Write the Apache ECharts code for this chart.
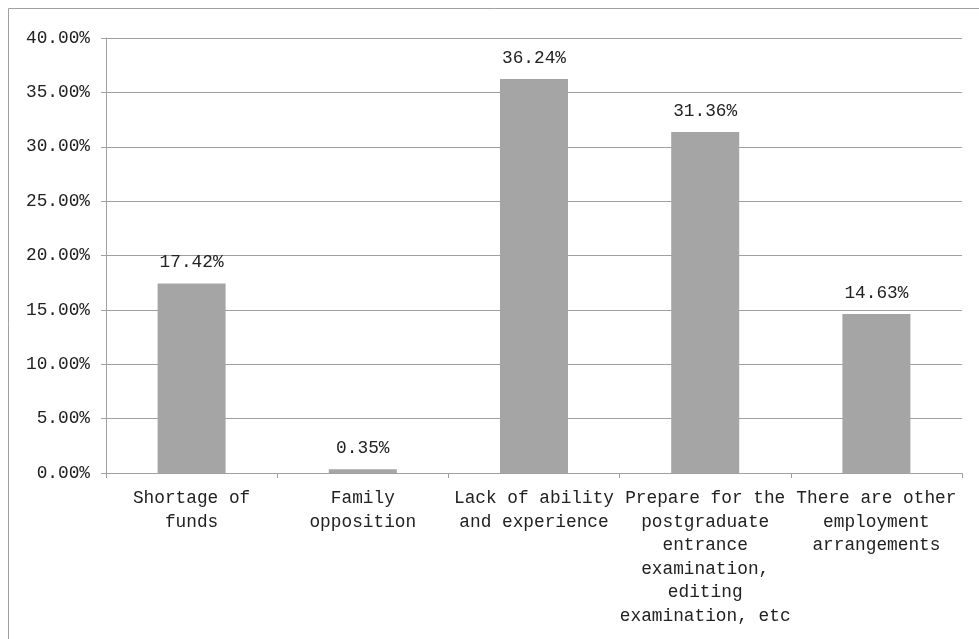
<!DOCTYPE html>
<html>
<head>
<meta charset="utf-8">
<script src="https://cdn.jsdelivr.net/npm/echarts@6/dist/echarts.min.js"></script>
<style>
html, body { margin: 0; padding: 0; background: #fff; }
#main { width: 979px; height: 639px; }
</style>
</head>
<body>
<div id="main"></div>
<script>
// categories (line breaks as in the original axis labels)
var categories = [
    'Shortage of\nfunds',
    'Family\nopposition',
    'Lack of ability\nand experience',
    'Prepare for the\npostgraduate\nentrance\nexamination,\nediting\nexamination, etc',
    'There are other\nemployment\narrangements'
];
// percentage values
var values = [17.42, 0.35, 36.24, 31.36, 14.63];
var yMin = 0, yMax = 40, yStep = 5;

var font = '"Liberation Mono", "DejaVu Sans Mono", monospace';
var gray = '#A0A0A0';

var chart = echarts.init(document.getElementById('main'));
chart.setOption({
    animation: false,
    backgroundColor: '#fff',
    graphic: [{
        type: 'rect',
        shape: { x: 8.5, y: 8.5, width: 1200, height: 1200 },
        style: { fill: 'none', stroke: gray, lineWidth: 1 },
        silent: true
    }],
    grid: {
        left: 106,
        right: 17,
        top: 38,
        bottom: 166,
        containLabel: false
    },
    xAxis: {
        type: 'category',
        data: categories,
        axisLine: { lineStyle: { color: gray } },
        axisTick: { show: true, length: 5, lineStyle: { color: gray } },
        axisLabel: {
            interval: 0,
            margin: 14,
            color: '#222',
            fontFamily: font,
            fontSize: 17.8,
            lineHeight: 23.5,
            align: 'center'
        }
    },
    yAxis: {
        type: 'value',
        min: yMin,
        max: yMax,
        interval: yStep,
        axisLine: { show: true, lineStyle: { color: gray } },
        axisTick: { show: true, length: 5, lineStyle: { color: gray } },
        splitLine: { lineStyle: { color: gray } },
        axisLabel: {
            margin: 16,
            color: '#222',
            fontFamily: font,
            fontSize: 17.8,
            formatter: function (v) { return v.toFixed(2) + '%'; }
        }
    },
    series: [{
        type: 'bar',
        data: values,
        barWidth: 68,
        itemStyle: { color: '#A5A5A5' },
        label: {
            show: true,
            position: 'top',
            distance: 12,
            color: '#222',
            fontFamily: font,
            fontSize: 17.8,
            formatter: function (p) { return p.value.toFixed(2) + '%'; }
        }
    }]
});
</script>
</body>
</html>
